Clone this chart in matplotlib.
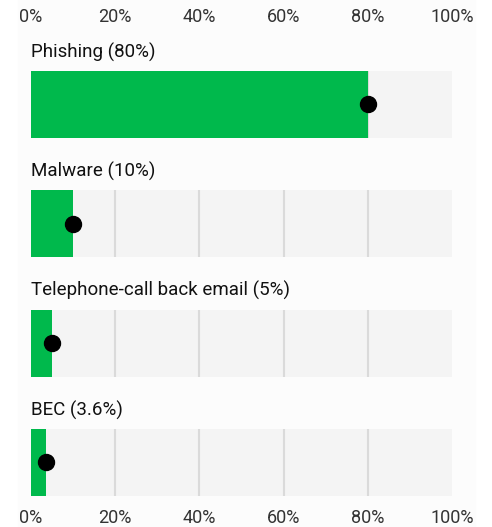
import matplotlib.pyplot as plt
from matplotlib.patches import Rectangle

# data
categories = ["Phishing", "Malware", "Telephone-call back email", "BEC"]
values = [80, 10, 5, 3.6]
tick_values = [0, 20, 40, 60, 80, 100]
tick_labels = ["0%", "20%", "40%", "60%", "80%", "100%"]

green = "#00b94c"
panel_bg = "#f4f4f4"
grid_col = "#dadada"
bar_h = 0.56

plt.rcParams['font.family'] = ['Roboto', 'DejaVu Sans']

fig = plt.figure(figsize=(4.92, 5.27), dpi=100)
W, H = 492, 527
# very faint off-white card behind the chart
fig.patches.append(Rectangle((18 / W, 0), (475 - 18) / W, 1, transform=fig.transFigure,
                             color="#fcfcfc", zorder=-10))

top_px, bot_px = 30, 505
ax = fig.add_axes([31 / W, 1 - bot_px / H, 421 / W, (bot_px - top_px) / H])
ax.set_zorder(5)
ax.patch.set_alpha(0)

c0, step = 104.5, 119.3
ax.set_ylim((bot_px - c0) / step, (top_px - c0) / step)
ax.set_xlim(0, 100)

for i, (name, v) in enumerate(zip(categories, values)):
    ax.barh(i, 100, height=bar_h, color=panel_bg, zorder=1)
    ax.vlines(tick_values[1:-1], i - bar_h / 2, i + bar_h / 2, color=grid_col, lw=1.5, zorder=2)
    ax.barh(i, v, height=bar_h, color=green, zorder=3)
    ax.plot(v, i, 'o', color='black', ms=11.5, zorder=4)
    ax.text(0, i - 0.44, f"{name} ({v:g}%)", fontsize=13.5, va='center', ha='left', color='#111111')

ax.set_xticks(tick_values)
ax.set_xticklabels(tick_labels)
ax.tick_params(axis='x', length=0, labelsize=13, labelcolor='#333333', top=True, labeltop=True, pad=3)
ax.set_yticks([])
for s in ax.spines.values():
    s.set_visible(False)

plt.savefig('out.png', dpi=100)
